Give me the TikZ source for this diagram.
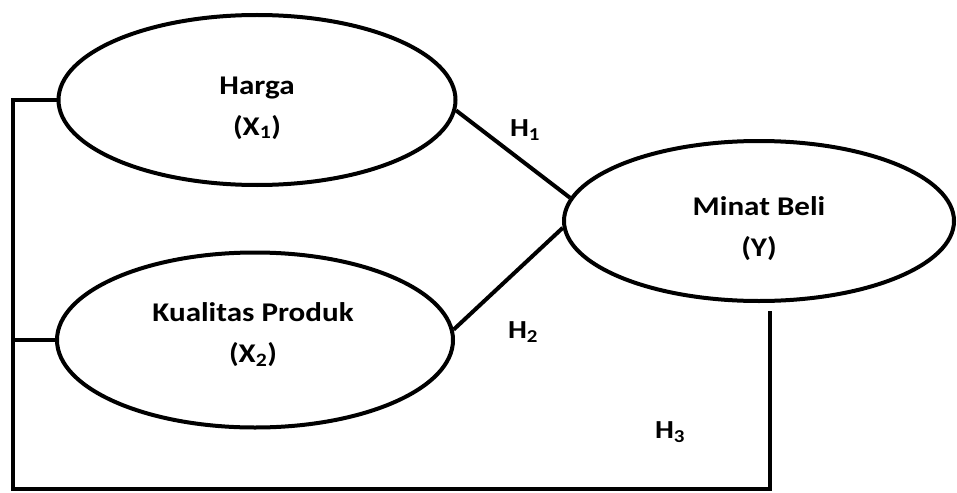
\documentclass[tikz,border=0pt]{standalone}
\usepackage{fontspec}
\setmainfont{Carlito}[FakeStretch=1.15]
\usepackage{tikz}
\usetikzlibrary{shapes.geometric}

\begin{document}
\begin{tikzpicture}[x=1pt,y=-1pt,line width=4pt,
    var node/.style={ellipse,draw},
    var text/.style={align=center,inner sep=0pt,font=\fontsize{27}{41}\selectfont\bfseries},
    hyp node/.style={inner sep=0pt,font=\fontsize{26}{30}\selectfont\bfseries}]
        \useasboundingbox (0,0) rectangle (957,492);
        \node[var node,minimum width=397pt,minimum height=170pt,
          label={[var text,yshift=-8pt]center:Harga\\(X\textsubscript{1})}] (1) at (257,100) {};
        \node[var node,minimum width=396pt,minimum height=175pt,
          label={[var text,yshift=5pt,xshift=-2pt]center:Kualitas Produk\\(X\textsubscript{2})}] (2) at (255,340) {};
        \node[var node,minimum width=390pt,minimum height=160pt,
          label={[var text,yshift=-8pt]center:Minat Beli\\(Y)}] (3) at (759,221) {};
        \node[hyp node] (h1) at (525,130) {H\textsubscript{1}};
        \node[hyp node] (h2) at (523,332) {H\textsubscript{2}};
        \node[hyp node] (h3) at (670,432) {H\textsubscript{3}};
        \coordinate (tl) at (13,100);
        \coordinate (bl) at (13,489);
        \coordinate (br) at (770,489);
        \coordinate (tr) at (770,311);
        \path
          (1.-3) edge (3.173)
          (2.3) edge (3.182);
        \draw (1.west) -- (tl) -- (bl) -- (br) -- (tr);
        \draw (2.west) -- (2.west -| tl);
      \end{tikzpicture}
\end{document}
